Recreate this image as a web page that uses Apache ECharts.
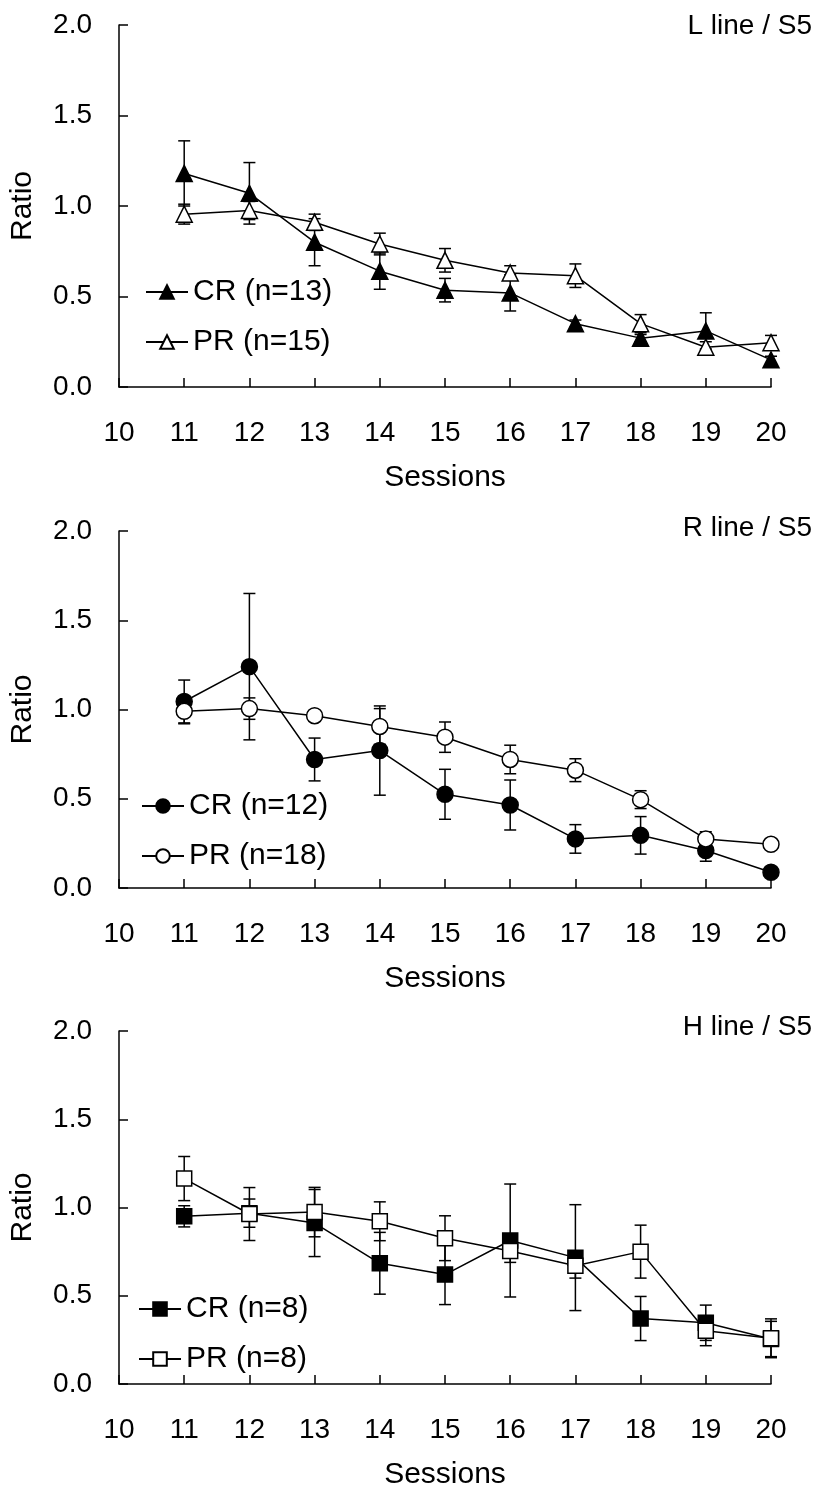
<!DOCTYPE html>
<html>
<head>
<meta charset="utf-8">
<script src="https://cdn.jsdelivr.net/npm/echarts@6/dist/echarts.min.js"></script>
<style>
html,body{margin:0;padding:0;background:#fff;}
#chart{width:823px;height:1491px;}
</style>
</head>
<body>
<div id="chart"></div>
<script>
// ---- data ----
const sessions = [11, 12, 13, 14, 15, 16, 17, 18, 19, 20];
const yTicks = [0, 0.5, 1.0, 1.5, 2.0];
const panelTitles = ['L line / S5', 'R line / S5', 'H line / S5'];
const crNames = ['CR (n=13)', 'CR (n=12)', 'CR (n=8)'];
const prNames = ['PR (n=15)', 'PR (n=18)', 'PR (n=8)'];

const lCR   = [1.18, 1.07, 0.80, 0.64, 0.535, 0.52, 0.35, 0.27, 0.31, 0.15];
const lCRse = [0.18, 0.17, 0.13, 0.10, 0.065, 0.10, 0.02, 0.02, 0.10, 0.02];
const lPR   = [0.955, 0.975, 0.91, 0.79, 0.70, 0.63, 0.615, 0.35, 0.22, 0.245];
const lPRse = [0.055, 0.05, 0.045, 0.06, 0.065, 0.04, 0.065, 0.05, 0.03, 0.04];

const rCR   = [1.045, 1.24, 0.72, 0.77, 0.525, 0.465, 0.275, 0.295, 0.21, 0.088];
const rCRse = [0.12, 0.41, 0.12, 0.25, 0.14, 0.14, 0.08, 0.105, 0.06, 0.01];
const rPR   = [0.99, 1.005, 0.965, 0.905, 0.845, 0.72, 0.66, 0.495, 0.275, 0.245];
const rPRse = [0.07, 0.06, 0.015, 0.10, 0.085, 0.08, 0.064, 0.05, 0.04, 0.01];

const hCR   = [0.95, 0.968, 0.912, 0.684, 0.62, 0.813, 0.716, 0.371, 0.347, 0.255];
const hCRse = [0.06, 0.08, 0.19, 0.175, 0.17, 0.32, 0.30, 0.125, 0.10, 0.10];
const hPR   = [1.164, 0.963, 0.974, 0.922, 0.826, 0.754, 0.67, 0.75, 0.302, 0.259];
const hPRse = [0.125, 0.15, 0.14, 0.11, 0.127, 0.065, 0.07, 0.15, 0.085, 0.11];

const symbols = ['triangle', 'circle', 'rect'];
const symSizes = [16, 16, 15];

// ---- layout ----
const FONT = 'Liberation Sans, Arial, sans-serif';
const grids = [
  {left: 118, top: 25, width: 653, height: 362},
  {left: 118, top: 531, width: 653, height: 357},
  {left: 118, top: 1031, width: 653, height: 357}
];
const titleTops = [7, 509, 1008];
const legendPos = [{left: 145, top: 277}, {left: 141, top: 791}, {left: 138, top: 1294}];

const panels = [
  {cr: lCR, crse: lCRse, pr: lPR, prse: lPRse},
  {cr: rCR, crse: rCRse, pr: rPR, prse: rPRse},
  {cr: hCR, crse: hCRse, pr: hPR, prse: hPRse}
];

function errRender(params, api) {
  const x = api.value(0), lo = api.value(1), hi = api.value(2);
  const p1 = api.coord([x, lo]);
  const p2 = api.coord([x, hi]);
  const w = 6;
  const st = {stroke: '#000', lineWidth: 1.5};
  return {type: 'group', children: [
    {type: 'line', shape: {x1: p1[0], y1: p1[1], x2: p2[0], y2: p2[1]}, style: st},
    {type: 'line', shape: {x1: p1[0] - w, y1: p1[1], x2: p1[0] + w, y2: p1[1]}, style: st},
    {type: 'line', shape: {x1: p2[0] - w, y1: p2[1], x2: p2[0] + w, y2: p2[1]}, style: st}
  ]};
}

const option = {
  animation: false,
  backgroundColor: '#fff',
  textStyle: {fontFamily: FONT, color: '#000'},
  title: panelTitles.map((t, i) => ({
    text: t, right: 6, top: titleTops[i],
    textStyle: {fontFamily: FONT, fontSize: 28, fontWeight: 'normal', color: '#000'}
  })),
  grid: grids,
  legend: panels.map((p, i) => ({
    data: [crNames[i], prNames[i]],
    orient: 'vertical',
    left: legendPos[i].left, top: legendPos[i].top,
    padding: 0,
    itemWidth: 42, itemHeight: 17, itemGap: 20,
    selectedMode: false,
    textStyle: {fontFamily: FONT, fontSize: 30, color: '#000'}
  })),
  xAxis: grids.map((g, i) => ({
    gridIndex: i, type: 'value', min: 10, max: 20, interval: 1,
    name: 'Sessions', nameLocation: 'middle', nameGap: 76,
    nameTextStyle: {fontFamily: FONT, fontSize: 30, color: '#000'},
    axisLine: {show: true, onZero: false, lineStyle: {color: '#000', width: 1.5}},
    axisTick: {show: true, inside: true, length: 9, lineStyle: {color: '#000', width: 1.5}},
    axisLabel: {fontFamily: FONT, fontSize: 28, color: '#000', margin: 32},
    splitLine: {show: false}
  })),
  yAxis: grids.map((g, i) => ({
    gridIndex: i, type: 'value', min: yTicks[0], max: yTicks[yTicks.length - 1], interval: 0.5,
    name: 'Ratio', nameLocation: 'middle', nameGap: 81, nameRotate: 90,
    nameTextStyle: {fontFamily: FONT, fontSize: 30, color: '#000'},
    axisLine: {show: true, lineStyle: {color: '#000', width: 1.5}},
    axisTick: {show: true, inside: true, length: 9, lineStyle: {color: '#000', width: 1.5}},
    axisLabel: {fontFamily: FONT, fontSize: 28, color: '#000', margin: 27, formatter: v => v.toFixed(1)},
    splitLine: {show: false}
  })),
  series: []
};

panels.forEach((p, i) => {
  option.series.push({
    type: 'custom', xAxisIndex: i, yAxisIndex: i, z: 1,
    renderItem: errRender, encode: {x: 0, y: [1, 2]},
    data: sessions.map((s, k) => [s, p.cr[k] - p.crse[k], p.cr[k] + p.crse[k]])
  });
  option.series.push({
    type: 'custom', xAxisIndex: i, yAxisIndex: i, z: 1,
    renderItem: errRender, encode: {x: 0, y: [1, 2]},
    data: sessions.map((s, k) => [s, p.pr[k] - p.prse[k], p.pr[k] + p.prse[k]])
  });
  option.series.push({
    name: crNames[i], type: 'line', xAxisIndex: i, yAxisIndex: i, z: 2,
    symbol: symbols[i], symbolSize: symSizes[i], showAllSymbol: true,
    lineStyle: {color: '#000', width: 1.5},
    itemStyle: {color: '#000', borderColor: '#000', borderWidth: 1.5},
    data: sessions.map((s, k) => [s, p.cr[k]])
  });
  option.series.push({
    name: prNames[i], type: 'line', xAxisIndex: i, yAxisIndex: i, z: 3,
    symbol: symbols[i], symbolSize: symSizes[i], showAllSymbol: true,
    lineStyle: {color: '#000', width: 1.5},
    itemStyle: {color: '#fff', borderColor: '#000', borderWidth: 1.5},
    data: sessions.map((s, k) => [s, p.pr[k]])
  });
});

const chart = echarts.init(document.getElementById('chart'), null, {renderer: 'canvas'});
chart.setOption(option);
</script>
</body>
</html>
